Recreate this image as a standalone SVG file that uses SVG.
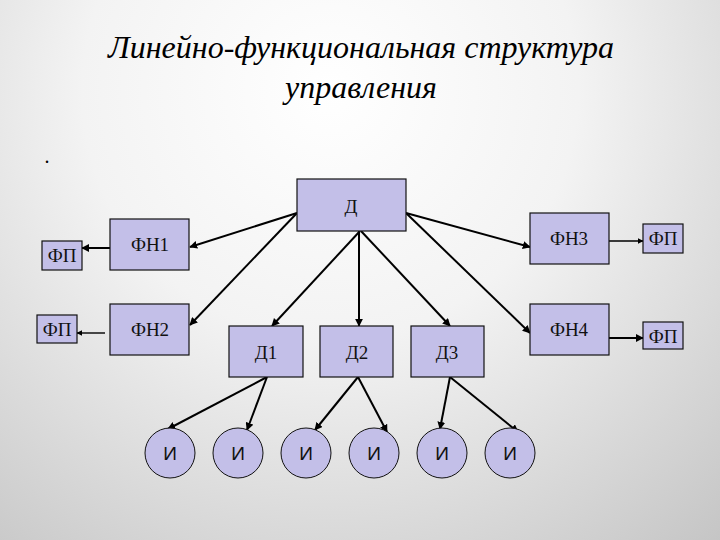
<svg xmlns="http://www.w3.org/2000/svg" width="720" height="540" viewBox="0 0 720 540">
<defs>
<radialGradient id="bg" cx="330" cy="90" r="620" gradientUnits="userSpaceOnUse">
<stop offset="0" stop-color="#ffffff"/>
<stop offset="0.4" stop-color="#f3f3f3"/>
<stop offset="1" stop-color="#c2c2c2"/>
</radialGradient>
<marker id="ah" viewBox="0 0 10 10" refX="9" refY="5" markerWidth="4" markerHeight="4" orient="auto" markerUnits="strokeWidth">
<path d="M0,0 L10,5 L0,10 z" fill="#000"/>
</marker>
</defs>
<style>
.box{fill:#c3bfe8;stroke:#111;stroke-width:1.2}
.t{font-size:19px;fill:#111;text-anchor:middle}
.ti{font-size:19px;fill:#111;text-anchor:middle}
.c{stroke:#000;stroke-width:2;fill:none;marker-end:url(#ah)}
.title{font-style:italic;font-size:32px;fill:#000;text-anchor:middle}
</style>
<rect width="720" height="540" fill="url(#bg)"/>
<g font-family="'Liberation Serif', 'Times New Roman', serif">
<text class="title" x="361" y="58">Линейно-функциональная структура</text>
<text class="title" x="361" y="98">управления</text>
<text x="47" y="163" font-size="20" text-anchor="middle">.</text>
</g>
<g id="connectors">
<line class="c" x1="297" y1="213" x2="190" y2="247"/>
<line class="c" x1="297" y1="213" x2="190" y2="325"/>
<line class="c" x1="360" y1="231" x2="272" y2="326"/>
<line class="c" x1="359" y1="231" x2="359" y2="326"/>
<line class="c" x1="361" y1="231" x2="450" y2="326"/>
<line class="c" x1="406" y1="213" x2="530" y2="247"/>
<line class="c" x1="406" y1="213" x2="530" y2="333"/>
<line class="c" x1="110" y1="248" x2="82" y2="248"/>
<line class="c" x1="105" y1="333" x2="77" y2="333" style="stroke-width:1.4"/>
<line class="c" x1="609" y1="241" x2="643" y2="241" style="stroke-width:1.4"/>
<line class="c" x1="609" y1="338" x2="643" y2="338"/>
<line class="c" x1="267" y1="377" x2="168" y2="429"/>
<line class="c" x1="267" y1="377" x2="247" y2="430"/>
<line class="c" x1="358" y1="377" x2="315" y2="430"/>
<line class="c" x1="358" y1="377" x2="387" y2="432"/>
<line class="c" x1="450" y1="377" x2="440" y2="429"/>
<line class="c" x1="450" y1="377" x2="518" y2="432"/>
</g>
<g font-family="'Liberation Serif', 'Times New Roman', serif">
<g id="D"><rect class="box" x="297" y="179" width="109" height="52"/><text class="t" x="351" y="213">Д</text></g>
<g id="FN1"><rect class="box" x="110" y="219" width="79" height="51"/><text class="t" x="150" y="251">ФН1</text></g>
<g id="FN2"><rect class="box" x="110" y="304" width="79" height="51"/><text class="t" x="150" y="336">ФН2</text></g>
<g id="FN3"><rect class="box" x="530" y="213" width="79" height="51"/><text class="t" x="569" y="245">ФН3</text></g>
<g id="FN4"><rect class="box" x="530" y="304" width="79" height="51"/><text class="t" x="569" y="336">ФН4</text></g>
<g id="FP1"><rect class="box" x="42" y="241" width="40" height="29"/><text class="t" x="62" y="262">ФП</text></g>
<g id="FP2"><rect class="box" x="37" y="315" width="40" height="28"/><text class="t" x="57" y="336">ФП</text></g>
<g id="FP3"><rect class="box" x="643" y="224" width="40" height="29"/><text class="t" x="663" y="245">ФП</text></g>
<g id="FP4"><rect class="box" x="643" y="322" width="40" height="27"/><text class="t" x="663" y="343">ФП</text></g>
<g id="D1"><rect class="box" x="229" y="326" width="74" height="51"/><text class="t" x="266" y="359">Д1</text></g>
<g id="D2"><rect class="box" x="320" y="326" width="73" height="51"/><text class="t" x="357" y="359">Д2</text></g>
<g id="D3"><rect class="box" x="411" y="326" width="73" height="51"/><text class="t" x="447" y="359">Д3</text></g>
</g>
<g font-family="'Liberation Sans', Arial, sans-serif">
<g id="I1"><circle class="box" cx="170" cy="453" r="25" style="stroke-width:1"/><text class="ti" x="170" y="460">И</text></g>
<g id="I2"><circle class="box" cx="238" cy="453" r="25" style="stroke-width:1"/><text class="ti" x="238" y="460">И</text></g>
<g id="I3"><circle class="box" cx="306" cy="453" r="25" style="stroke-width:1"/><text class="ti" x="306" y="460">И</text></g>
<g id="I4"><circle class="box" cx="374" cy="453" r="25" style="stroke-width:1"/><text class="ti" x="374" y="460">И</text></g>
<g id="I5"><circle class="box" cx="442" cy="453" r="25" style="stroke-width:1"/><text class="ti" x="442" y="460">И</text></g>
<g id="I6"><circle class="box" cx="510" cy="453" r="25" style="stroke-width:1"/><text class="ti" x="510" y="460">И</text></g>
</g>
</svg>
